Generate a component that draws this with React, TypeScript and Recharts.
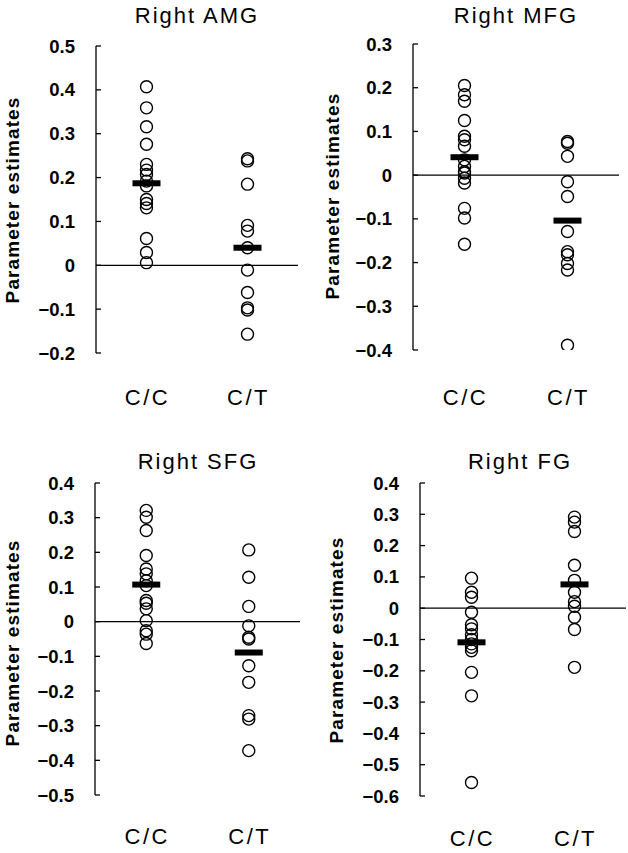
import React from "react";
import { ScatterChart, Scatter, XAxis, YAxis, ReferenceLine } from "recharts";

const FONT = '"Liberation Sans", Arial, Helvetica, sans-serif';

const groups = ["C/C", "C/T"];

// Right AMG
const amgCC = [0.407, 0.359, 0.316, 0.276, 0.23, 0.217, 0.207, 0.192, 0.181, 0.15, 0.141, 0.131, 0.061, 0.029, 0.006];
const amgCT = [0.243, 0.238, 0.185, 0.091, 0.078, 0.04, -0.011, -0.062, -0.097, -0.102, -0.157];
const amgMeans = [0.187, 0.04];
const amgTicks = [0.5, 0.4, 0.3, 0.2, 0.1, 0, -0.1, -0.2];

// Right MFG
const mfgCC = [0.205, 0.184, 0.169, 0.125, 0.089, 0.081, 0.066, 0.035, 0.02, 0.008, 0.005, -0.007, -0.018, -0.076, -0.098, -0.158];
const mfgCT = [0.077, 0.073, 0.043, -0.015, -0.049, -0.129, -0.175, -0.182, -0.202, -0.217, -0.389];
const mfgMeans = [0.041, -0.104];
const mfgTicks = [0.3, 0.2, 0.1, 0, -0.1, -0.2, -0.3, -0.4];

// Right SFG
const sfgCC = [0.321, 0.301, 0.263, 0.191, 0.152, 0.138, 0.118, 0.104, 0.061, 0.053, 0.037, 0.003, -0.026, -0.036, -0.063];
const sfgCT = [0.207, 0.128, 0.044, -0.012, -0.045, -0.05, -0.127, -0.175, -0.271, -0.281, -0.372];
const sfgMeans = [0.107, -0.089];
const sfgTicks = [0.4, 0.3, 0.2, 0.1, 0, -0.1, -0.2, -0.3, -0.4, -0.5];

// Right FG
const fgCC = [0.096, 0.051, 0.035, -0.013, -0.053, -0.066, -0.085, -0.1, -0.114, -0.125, -0.136, -0.205, -0.28, -0.557];
const fgCT = [0.291, 0.275, 0.245, 0.137, 0.089, 0.051, 0.021, 0.006, -0.029, -0.068, -0.189];
const fgMeans = [-0.109, 0.076];
const fgTicks = [0.4, 0.3, 0.2, 0.1, 0, -0.1, -0.2, -0.3, -0.4, -0.5, -0.6];

function fmt(v: number): string {
  const r = Math.round(v * 10) / 10;
  if (r === 0) return "0";
  return r < 0 ? "\u2212" + String(-r) : String(r);
}

function Circle(props: any) {
  const { cx, cy } = props;
  return <circle cx={cx} cy={cy} r={6} fill="none" stroke="#000" strokeWidth={1.4} />;
}

function MeanBar(props: any) {
  const { cx, cy } = props;
  return <rect x={cx - 14} y={cy - 3} width={28} height={6} fill="#000" />;
}

function YTick(props: any) {
  const { x, y, payload } = props;
  return (
    <g>
      <line x1={x} x2={x + 5} y1={y} y2={y} stroke="#000" strokeWidth={1.3} />
      <text x={x - 21} y={y} textAnchor="end" dominantBaseline="central" fontFamily={FONT} fontWeight={700} fontSize={18.5} fill="#000">
        {fmt(payload.value)}
      </text>
    </g>
  );
}

function XTick(props: any) {
  const { x, y, payload, offset } = props;
  return (
    <text x={x + 1} y={y + offset} textAnchor="middle" fontFamily={FONT} fontSize={22} letterSpacing={2.5} fill="#000">
      {groups[payload.value - 1]}
    </text>
  );
}

type PanelProps = {
  left: number;
  top: number;
  height: number;
  plotTop: number;
  plotBottom: number;
  axisX: number;
  right: number;
  ticks: number[];
  cc: number[];
  ct: number[];
  means: number[];
  labelOffset: number;
};

function Panel(p: PanelProps) {
  const width = 314;
  const points = [...p.cc.map((y) => ({ x: 1, y })), ...p.ct.map((y) => ({ x: 2, y }))];
  const meanPts = p.means.map((y, i) => ({ x: i + 1, y }));
  const domain = [p.ticks[p.ticks.length - 1], p.ticks[0]];
  return (
    <div style={{ position: "absolute", left: p.left, top: p.top, width, height: p.height }}>
      <ScatterChart
        width={width}
        height={p.height}
        margin={{ top: p.plotTop, right: p.right, bottom: 0, left: 0 }}
      >
        <XAxis
          type="number"
          dataKey="x"
          domain={[0.5, 2.5]}
          ticks={[1, 2]}
          axisLine={false}
          tickLine={false}
          tickSize={0}
          tickMargin={0}
          height={p.height - p.plotBottom}
          tick={(t: any) => <XTick {...t} offset={p.labelOffset} />}
          allowDataOverflow
        />
        <YAxis
          type="number"
          dataKey="y"
          domain={domain}
          ticks={p.ticks}
          interval={0}
          width={p.axisX}
          axisLine={{ stroke: "#000", strokeWidth: 1.3 }}
          tickLine={false}
          tickSize={0}
          tickMargin={0}
          tick={(t: any) => <YTick {...t} />}
          allowDataOverflow
        />
        <ReferenceLine y={0} stroke="#000" strokeWidth={1.3} />
        <Scatter data={points} shape={Circle} isAnimationActive={false} />
        <Scatter data={meanPts} shape={MeanBar} isAnimationActive={false} />
      </ScatterChart>
    </div>
  );
}

const titles = [
  { text: "Right AMG", x: 197, y: 23 },
  { text: "Right MFG", x: 516, y: 23 },
  { text: "Right SFG", x: 198, y: 469 },
  { text: "Right FG", x: 520, y: 469 },
];

const yLabels = [
  { x: 18.5, y: 200 },
  { x: 339, y: 196 },
  { x: 18.5, y: 643 },
  { x: 343, y: 640 },
];

export default function App() {
  return (
    <div style={{ position: "absolute", left: 0, top: 0, width: 628, height: 853, background: "#fff" }}>
      <Panel left={0} top={0} height={420} plotTop={46} plotBottom={353} axisX={96} right={16}
        ticks={amgTicks} cc={amgCC} ct={amgCT} means={amgMeans} labelOffset={52} />
      <Panel left={314} top={0} height={420} plotTop={44} plotBottom={350} axisX={99} right={9}
        ticks={mfgTicks} cc={mfgCC} ct={mfgCT} means={mfgMeans} labelOffset={55} />
      <Panel left={0} top={420} height={433} plotTop={63} plotBottom={375} axisX={95} right={14}
        ticks={sfgTicks} cc={sfgCC} ct={sfgCT} means={sfgMeans} labelOffset={49} />
      <Panel left={314} top={420} height={433} plotTop={63} plotBottom={376} axisX={106} right={2}
        ticks={fgTicks} cc={fgCC} ct={fgCT} means={fgMeans} labelOffset={50} />
      <svg width={628} height={853} style={{ position: "absolute", left: 0, top: 0, pointerEvents: "none" }}>
        {titles.map((t) => (
          <text key={t.text} x={t.x} y={t.y} textAnchor="middle" fontFamily={FONT} fontSize={22} letterSpacing={2} fill="#000">
            {t.text}
          </text>
        ))}
        {yLabels.map((l, i) => (
          <text key={i} x={l.x} y={l.y} transform={`rotate(-90 ${l.x} ${l.y})`} textAnchor="middle"
            fontFamily={FONT} fontWeight={700} fontSize={19} letterSpacing={1.1} fill="#000">
            Parameter estimates
          </text>
        ))}
      </svg>
    </div>
  );
}
